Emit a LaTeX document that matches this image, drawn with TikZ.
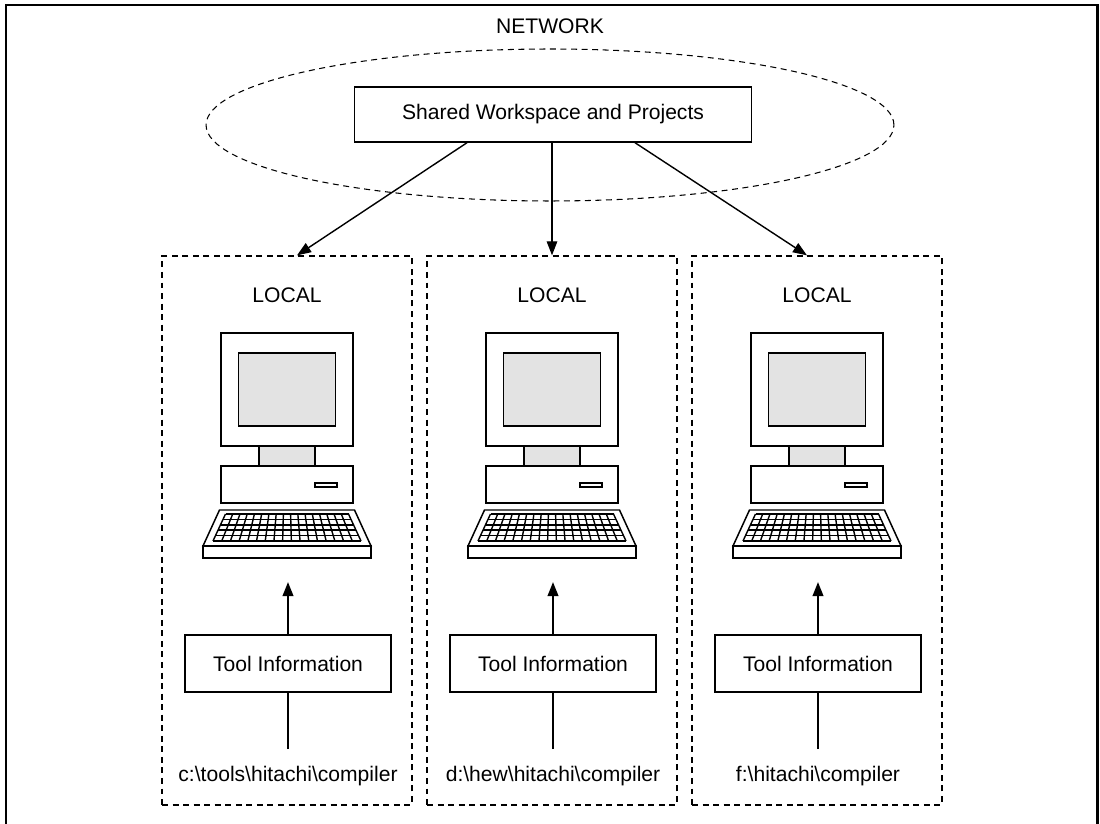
\documentclass[tikz,border=0pt]{standalone}
\usepackage{fontspec}
\setmainfont{Liberation Sans}
\usetikzlibrary{shapes.geometric,arrows.meta}

\tikzset{
	box/.style={shape=rectangle,draw=black,line width=0.8pt,inner sep=0pt},
	area/.style={shape=rectangle,draw=black,line width=0.8pt,dash pattern=on 3.4pt off 2.6pt,inner sep=0pt,minimum width=5cm,minimum height=10.98cm},
	tip/.style={-{Triangle[length=8pt,width=6pt]}},
}

\begin{document}
\begin{tikzpicture}[x=0.02cm, y=-0.02cm, font=\fontsize{12}{14}\selectfont]

	\useasboundingbox (0,0) rectangle (1100,824);
	\draw[line width=1.7pt] (6,826) -- (6,5) -- (1097,5) -- (1097,826);

	% network part
	\node (net) at (550,26) {NETWORK};
	\node[shape=ellipse,draw=black,line width=0.6pt,dash pattern=on 3.4pt off 2.6pt,inner sep=0pt,minimum width=13.76cm,minimum height=3.04cm] (cloud) at (550,125) {};
	\node[box,fill=white,minimum width=7.94cm,minimum height=1.1cm] (shared) at (553,114.5) {Shared Workspace and Projects};

	% local machines
	\node[area] (loc1) at (287,530.5) {};
	\node[area] (loc2) at (552,530.5) {};
	\node[area] (loc3) at (817,530.5) {};

	\node (lbl1) at (287,295) {LOCAL};
	\node (lbl2) at (552,295) {LOCAL};
	\node (lbl3) at (817,295) {LOCAL};

	\foreach \x in {287,552,817} {
		\begin{scope}[shift={(\x,0)}, line width=0.85pt]
			\draw (-66,333) rectangle (66,446);
			\draw[fill=gray!22] (-48.5,353) rectangle (48.5,426);
			\draw[fill=gray!22] (-28,446) rectangle (28,466);
			\draw (-66,466) rectangle (66,503);
			\draw (28,483) rectangle (50,487);
			\draw (-67.5,510) -- (67.5,510) -- (84,546) -- (-84,546) -- cycle;
			\draw (-84,546) rectangle (84,558);
			% keys
			\foreach \i in {0,...,5}
				\draw[line width=0.8pt] ({-61.5-\i*2.5},{514+\i*5.4}) -- ({61.5+\i*2.5},{514+\i*5.4});
			\foreach \j in {0,...,17}
				\draw[line width=0.8pt] ({-61.5+\j*123/17},514) -- ({-74+\j*148/17},541);
		\end{scope}
	}

	\node[box,minimum width=4.12cm,minimum height=1.14cm] (tool1) at (288,663.5) {Tool Information};
	\node[box,minimum width=4.12cm,minimum height=1.14cm] (tool2) at (553,663.5) {Tool Information};
	\node[box,minimum width=4.12cm,minimum height=1.14cm] (tool3) at (818,663.5) {Tool Information};

	\node (dir1) at (288,776) {c:\textbackslash tools\textbackslash hitachi\textbackslash compiler};
	\node (dir2) at (553,776) {d:\textbackslash hew\textbackslash hitachi\textbackslash compiler};
	\node (dir3) at (818,776) {f:\textbackslash hitachi\textbackslash compiler};

	\coordinate (pc1) at (288,582);
	\coordinate (pc2) at (553,582);
	\coordinate (pc3) at (818,582);
	\coordinate (in1) at (288,749);
	\coordinate (in2) at (553,749);
	\coordinate (in3) at (818,749);

	\path[tip, line width=0.8pt] ([xshift=-1.72cm]shared.south) edge ([xshift=0.2cm]loc1.north);
	\path[tip, line width=0.8pt] ([xshift=-0.02cm]shared.south) edge (loc2.north);
	\path[tip, line width=0.8pt] ([xshift=1.64cm]shared.south) edge ([xshift=-0.2cm]loc3.north);

	\path[tip, line width=1.2pt] (tool1) edge (pc1);
	\path[tip, line width=1.2pt] (tool2) edge (pc2);
	\path[tip, line width=1.2pt] (tool3) edge (pc3);
	\path[line width=1.2pt] (in1) edge (tool1);
	\path[line width=1.2pt] (in2) edge (tool2);
	\path[line width=1.2pt] (in3) edge (tool3);

\end{tikzpicture}
\end{document}
